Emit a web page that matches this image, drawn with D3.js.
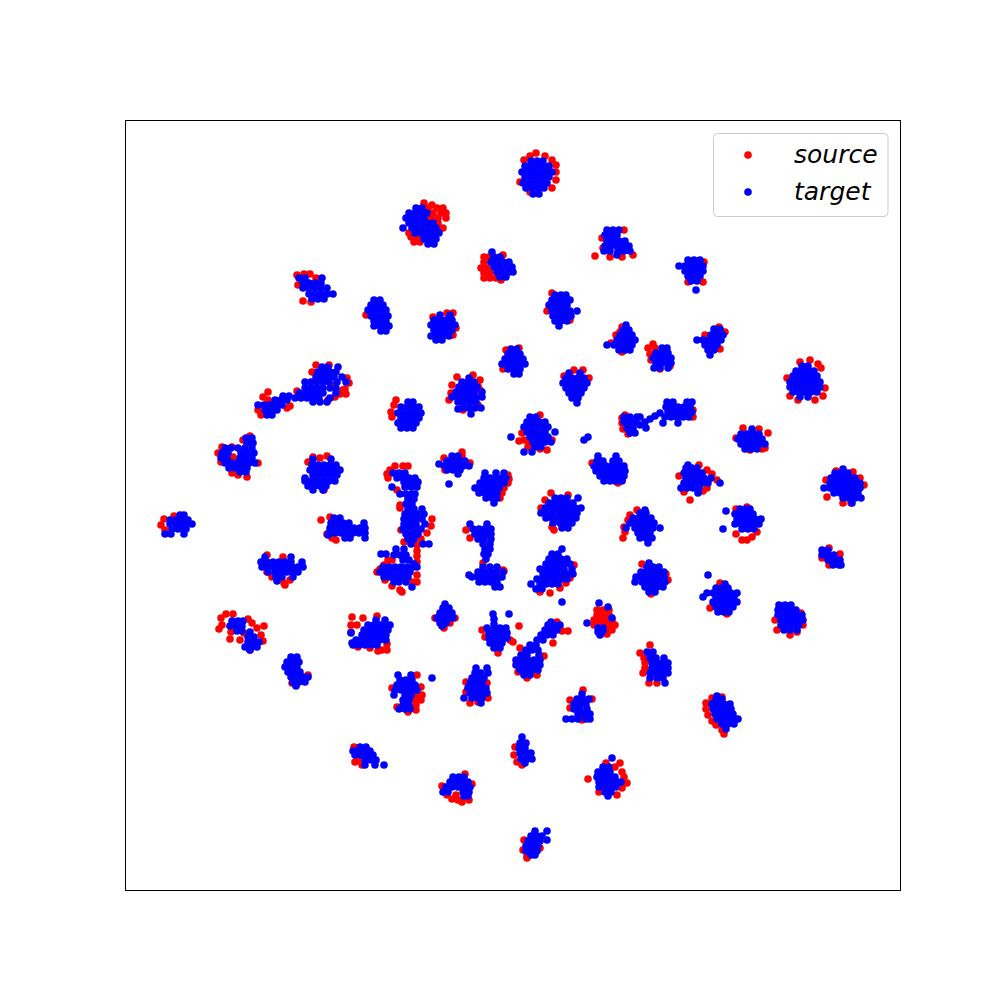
<!DOCTYPE html>
<html><head><meta charset="utf-8">
<style>html,body{margin:0;background:#fff}svg{display:block}</style>
<script src="https://cdn.jsdelivr.net/npm/d3@7"></script></head>
<body><div id="c"></div>
<script>
const seriesNames = ["source","target"];
const seriesColors = ["#ff0000","#0000ff"];
// each row: [y, x, x, x, ...]
const sourceRows = [
[844,530,545],[847,536],[840,524,552],[835,556],[828,556],[820,556],[812,552],[818,520],[808,530],
[797,424],[795,432],[792,428,437,443],[787,433,441,446],[782,431,438,446],[777,438],[772,443],[767,409],[763,411,417],[758,414,420],
[745,503],[743,484,489],[738,484],[732,481,487],[727,484,490],[722,484,490,496],[720,501],
[744,595],[745,633],[743,610,622],[770,624],[762,602],[752,603],
[738,704],[718,703,688],
[725,297],[726,304,310],[722,316],[715,298],[699,303],[698,311],
[685,366],
[687,447,453],[672,456],[683,433],[665,453],
[689,547],[707,552],[680,570],
[673,622],[665,616,705],[657,611],[668,620,725],[648,622],
[656,653],[652,648,655],[646,650],[640,651],[634,670],[631,660],
[651,720],[673,719],
[640,810],[638,800],[636,818],[632,821],[622,787],[604,790,823],[600,798,815],[612,825],
[650,506],[652,519],[631,503],
[624,564],[630,574,583],[622,589],
[623,457],[625,473],[620,480],[615,452],[610,480],[607,451],[590,463],[595,478],[600,449],[614,478],
[595,394],[588,391],[583,392],[600,396],
[608,268],[603,263],[590,258],[585,261],[592,287],[594,290],[609,297],[600,268],
[635,316,329],[628,312],[622,347],[617,349],[611,345],[610,343],[606,340,346],[613,335],[615,332],[603,335],[600,328],
[590,693],[583,693],[571,623],[577,622],[566,628],[582,622],[585,625],
[567,768],[571,759],[572,743],[562,736],[551,762],[552,765],[550,750],
[559,519],[560,524,552],[550,547],[567,522],[585,540],[553,528],[551,540],[557,529],
[564,250],[560,243],[553,222,232],[547,218],[538,221],[537,258],[523,247],[525,238],[527,232],[543,233],
[543,313],[542,320],[544,327],[510,324],[538,308],
[544,462],[548,462],[542,444],[534,444],[530,445],[537,470],
[521,509],[517,508],[512,504],[507,502],[502,500],[525,508],
[537,592],[519,615],[517,618],[520,622],
[535,699],[530,707],[526,712],[524,679],[508,684],[500,690],[512,707],[509,703],[520,717],
[528,853],[520,826],[515,864],[529,836],[503,827],[497,843,851],[522,860],
[493,747],[491,736],[466,736],[460,742,747],[463,752],[468,757],
[507,551],[505,568],[492,541],[500,545],[473,552],[470,554],
[490,637],[485,630],[480,628],[468,625],[473,624],[462,623],
[481,164],[475,161],[470,165],[484,174],
[480,321],[483,330],[466,327],[462,332],[460,336],
[534,395,403,408],[530,390],[526,387],[522,388],[510,397],[495,400],[481,432],[474,431],[467,427],[461,421],[455,417],[449,417],[444,417],[438,417],[431,380],[440,388,392],[435,384],[428,377],[420,385],[414,392],[410,400],[408,402],[418,413,417],[425,417],[492,400],[470,401],[458,404],
[470,466],[462,470],
[437,483],[430,503],[429,504],
[435,574],[407,550],[417,566],[412,560],[422,570],[408,540],
[445,267],[443,283],[417,284],[415,285],[420,290],[428,267],[423,272],
[436,642],[426,666],[406,651],[420,668],
[452,829],[446,840],[442,822],[435,829],
[392,710],[417,720],[386,727],
[365,790],[370,777],[380,775],[387,801],[375,803],[368,797],
[382,455,435],[372,444],[377,450],
[390,597,603,609],[385,597,603,609],[380,594,600,606,612],[375,594,600,606,612,615],[370,600,606,612],[366,601,607],
[386,233,226],[381,248],[382,221],[375,222],[371,219],[361,230],[360,240],[374,264],[372,257],[365,261],[359,263],[377,252],[368,231],[350,250],[367,244],
[383,352],[382,363],[384,377],[375,351,357],[368,351],[353,358],[352,370],[350,382,387],[356,387],[349,378],
[374,519],[370,482],[358,513],[360,510],[347,498],[363,485],
[369,568,562],[357,553],[344,544],[325,537],[322,527],[352,520],[328,518],[378,557],
[355,650],[347,640],[337,645],[327,643],[317,649,657],[342,644],[332,645],
[325,308,417],[317,292],[315,296],
[313,421],[300,421,415],[305,422,416],[290,416],[288,408],[293,397],[312,392],[295,416],
[308,466],[302,488],[297,470],[317,487],[318,466],[298,478],
[310,583],[301,592],[300,570],[292,570],[280,582],[283,586],
[302,712,718],[297,706],[291,706],[285,708],[279,712],[275,716],[270,722],[266,724],[303,722],
[245,514],[253,515],[238,517],[235,522],
[253,354],[238,355],[235,362],[240,358],
[237,620,606],[228,622],[217,627],[221,588],[208,599],[205,617],[223,624],[212,622],[233,615],
[214,442],[201,452],[198,462],[200,458,469],[226,465],[216,472],[205,447,456],
[152,540],[160,524],[144,527],[142,527],[150,523]
];
const targetRows = [
[839,531,537,543],[834,525,531,537,543,549],[828,522,528,534,540,546,552],[823,525,531,537,543,549],[817,523,529,535,541,547],[812,526,532,538,544],[806,533,539],
[792,416,422],[787,409,415,421,427],[782,406,412,418,424],[777,409,415,421,427,433],[772,403,412,418,424,430,436],[767,415,421,427,433,439],[761,424,430,436],[756,428,434],
[748,492],[743,494,500],[738,491,497,503,509],[733,494,500,506,512],[728,497,503,509,513],[723,500,506],
[770,607,613,619],[765,605,611,617],[759,607,613,619,625],[754,605,611,617,623,629],[749,604,610,618,624,630],[745,617],
[740,688,694,700],[734,679,685,691,697,703],[729,685,691,697,703],[724,688,694,700],[719,691,697],[710,696],
[722,299,305,322],[717,303,309,315,321],[712,303,309,315,321,327],[706,309,315,321,327,333],[701,312,318,324],
[700,374,380],[695,371,377,383],[690,368,374,380,386],[684,371,377,383,388],[679,374,380,386],[674,374,380,386,389],[669,381,386],
[685,440,450],[680,434,440,446,452],[675,431,437,443,449,455],[670,434,440,446,452],[664,431,437,443,449],[660,436,442],
[705,555,561,566],[700,552,558,564,570],[695,549,555,561,567],[689,552,558,564,570,577],[684,553,559,565,571],[679,555,561,567],[674,559],
[675,626],[670,623,629],[665,620,626,632],[660,617,623,629,635],[655,607,614,620,626,632],[650,619,625,630],
[652,662,667],[647,656,662,668],[642,653,659,665,671],[637,656,662,668,671],[632,654,660,668],
[671,714,720],[665,711,717,723],[660,697,703,709,715,721],[655,705,711,717],[650,708,714],[645,710],
[634,802,808],[629,796,802,808,814],[624,793,799,805,811,817],[618,790,796,802,808,814,820],[613,790,796,802,808,814,820],[608,793,799,805,811,817],[603,800,808],
[651,511,517],[646,508,514,520],[641,505,511,517,523],[636,502,508,514,520,525],[631,508,514,520],[626,514,519],
[627,569,580],[622,566,572,578,584],[617,563,569,575,581,587],[612,566,572,578,584],[607,569,575,581],[602,572,578],[597,577],
[622,469],[618,462,468,474],[613,459,465,471,477],[608,456,462,468,474,482],[603,452,458,464,470,476,482],[598,458,464,470,476],[592,463,469,475,481],[591,458],[586,471],
[598,408,413],[593,401,407,413,419],[587,398,404,410,416,421],[582,401,407,413,419],[577,398,404,410,416],[572,401,407,413],
[604,283,289],[600,275,281,287],[595,258,264,270,276,282],[590,265,271,277],[585,267,272],
[633,322,328,338],[628,318,324,330,336],[623,316,322,328,334,342],[618,305,311,317,323,329,337,346],[612,305,311,317,323,330,336],[607,299,305,311,317,323,336],[602,295,301,307,313,319,330],[598,313,320,327],
[598,667,673,687,692],[593,666,672,678,684,690],[588,668,674,680,686,692],[583,665,671,677,683,689],[577,663,678],[587,660],[584,655],[581,650],[578,645],[575,640],
[583,624,630,637,640],[578,624,630,636],[572,627,633,646],[567,630,635],
[571,752],[566,741,747,753,759],[561,738,744,750,756,762],[556,741,747,753,759,765],[551,745,751,757],
[583,530,536],[578,527,533,539,545],[573,524,530,536,542,548],[568,527,533,539,545,555],[563,511,530,536,542,548],[558,533,539,545,551],[553,535,541],[548,524,532],
[541,313,331],[535,312,318,324,330,336],[530,310,316,322,328,334,340],[525,313,319,325,331,337],[522,305],[519,305,311,317,323,329,335],[514,308,314,320,326],[510,313,323],
[562,246,252],[557,247,253],[552,225,231,238,245,252],[547,222,228,241,247,254],[542,221,227,240,246,252],[537,225,231,237,243,249,255],[532,229,235,241,247],[528,240,246],
[485,180,184],[480,170,176,182,188],[476,170,176,182,188,192],[471,172,178,184,186],[466,165,171,184],
[482,334,340],[477,331,337,343,349,364],[472,330,336,342,348,354,360,365],[467,329,335,341,347,353,359,365],[465,328],[462,345,350,365],
[527,393,399,405],[522,397,403,409,415],[518,404,410,416,418],[513,392,405,411,417],[506,400,406,412,415],[501,408,414],[496,406,412],[491,408,414,422],[486,405,411,417,424],[481,404,410,416,422],[476,404,410,416,425],[471,403,409,415,421],[466,406,412,418],[461,408,414],[456,411,423,429],
[446,381,386],[451,396,404],[445,394,400,406],[440,403,409],[436,414],[433,383,389,395,401,407,413,417],[428,380,386,392,398,404,410],[423,384,390,396,402,408],[418,394,399,406],[413,412],
[544,452,458],[539,447,453,459,465],[534,445,451,457,463,469],[536,439],[530,447,453,459,460],[526,458],[516,449],
[527,485,496,504],[522,484,490,496,502,506],[517,480,486,492,498,504],[512,475,481,487,493,499],[507,479,485,491,497],[502,486,492,497],[497,494],
[544,598,616],[539,597,603,613,619],[534,594,600,606,612,618,624],[529,596,602,608,614,620,625],[524,600,606,612,618,624],[519,604,610,616,622],
[560,584],[563,588],
[535,688],[532,686,692,697],[527,684,690,696,702],[522,686,692,698,704,711],[517,684,690,696,702,708,720],[512,681,687,693,699],[507,698],
[531,843],[527,835,841,848],[522,831,837,843,849,855],[517,830,836,842,848,854,860],[512,824,830,836,842,848,854,860],[507,834,840,846,852,858],[502,843,849,855,861],[497,852],
[491,740,746,750],[489,726],[486,735,741,747,753],[481,737,743,749,755,761],[476,735,741,747,753,759],[471,723,742,748,754],
[502,555,561,567,578],[497,549,555,561,567,573],[492,545,551,557,563,569,575,581],[487,541,547,553,559,565,571,577],[482,546,552,558,564,570,576],[477,553,560,566,572],[472,562,568],
[490,645],[487,640,646],[482,633,639,645,651],[477,630,636,642,648,654],[472,626,635,641,647,653,660],[467,638,644,650],[462,640,646,652],[457,648],
[476,470,487],[471,473,479,485,491],[466,475,481,487,491],[461,478,484,491],[456,483,490],[451,485,490],[446,484,488],[441,486],
[433,483,490,497],[428,478,484,490,496,503],[425,469],[423,472,478,484,490,496,502],[418,479,485,491,497],[413,495,500],
[451,562],[446,552,558],[441,549,555,561,567],[436,546,552,558,564,570],[431,540,546,552,558,564,572],[426,543,549,555,561,567,573],[421,537,543,549,555,561,567],[416,531,540,546,552,558],[411,536,542],[398,562],
[443,265,291],[438,261,267,273,279,285,291,302],[433,262,268,274,280,286,292,298,303],[428,268,275,281,287,293,298],[423,276,282,293],[419,277],
[437,649],[433,647,653,659],[428,641,647,653,659,664],[423,636,642,648,654,660,664],[418,635,642,648,654,660,665],[413,645,651,657,663],[408,649,655],
[450,822,828],[445,822,828,834],[440,828,834,840],[435,833,839,841],
[425,708],[416,725],[412,716,722,728],[407,707,713,719,725,731,737],[403,703,716,722,728,734],[398,713,719,725,731,737],[393,716,722,728,733],[388,718,724,729],
[395,779,785,791],[390,778,784,790,796],[385,778,784,790,796,802],[380,781,787,793,799,803],[375,781,787,793,799],[370,784,790,797],
[396,445],[392,443,449],[387,440,446,452],[382,437,443,449,453],[377,440,446],[374,442],
[397,599],[393,608],[382,612],[377,587],[372,598,603],[369,603],[368,598],[365,600],
[379,232,238,243],[374,230,236,242],[369,237,242],[368,250],[363,248,254],[358,248,254,259],[353,245,251,257],[350,250],
[380,376,385],[375,368,374,380,386,390],[370,364,370,376,382,388],[367,351],[365,362,368,374,380,386],[360,356,362,368,374,380,386],[357,352],[355,353,359,365,371,377],
[386,493,509],[381,494],[376,494],[372,487,494,500,506],[367,489,495,501,507],[362,489,495,501,507],[357,490,496,502],[352,494,500],
[378,551],[375,548,554,560],[370,545,551,557],[365,541,547,553],[360,537,543],[355,530,536],[350,526,532,538],[345,521,527,539],[340,516,522,528,534,540],[335,516,522,528,534,540],[330,520,526,532,538],[325,524,530],
[348,647,653],[342,650,656,664],[337,652,658,664,668],[332,652,658,664,668],[327,650,656,662,668],[322,650,657,663],[317,665],
[343,291,297],[338,287,293,299],[333,285,291,297],[328,288,294,300],[323,291,297,303,308],[318,293,299,305],[314,296],
[325,398,411],[322,432],[320,400,406,412],[315,397,403,409,415],[310,395,401,407,413,417],[305,394,405,411],[300,403,409],[295,403,409],[291,399,405,410],
[332,476,487],[327,475,481,488],[322,472,478,484],[317,470,476,482],[312,468,474,480,486],[307,470,476,482,487],[302,464,472,478,482],[297,481],
[306,582],[301,577,583,589],[296,574,580,586],[291,574,580,587],[286,578,584,590],[281,566,572,578,586,590],
[304,717],[301,716,722],[296,712,718,724,730],[291,713,719,725,731],[286,715,721,727,733],[281,717,723,729,735,738],[276,722,728,734],[271,726],
[263,522],[257,520,526],[252,519,525],[247,520,526,531],[241,521,527,532],[237,525],
[253,360,366],[249,353,359,365,370],[245,355,361,367,373],[240,365,371,376],[235,365,375,384],
[242,612],[233,603,609],[228,598,604,610],[223,597,603,609,615],[218,599,605,611,617,621],[213,599,605,611,616],[208,605,611],[204,608],
[223,453,459,464],[218,450,456,462,468],[213,446,452,458,464,470],[208,443,448,463,469],[204,464,468],
[169,535,547],[164,531,537,542],[160,547],[159,528,534,540],[154,526,532,538],[149,526,532,537],[145,531,535]
];
const toPoints = rows => rows.flatMap(([yv,...xs]) => xs.map(xv => [xv,yv]));
const sourcePoints = toPoints(sourceRows), targetPoints = toPoints(targetRows);
const W=1000,H=1000;
const x=d3.scaleLinear().domain([125,900]).range([125,900]);
const y=d3.scaleLinear().domain([110,880]).range([890,120]);
const svg=d3.select("#c").append("svg").attr("width",W).attr("height",H);
svg.append("rect").attr("x",125.5).attr("y",120.5).attr("width",775).attr("height",770).attr("fill","#fff").attr("stroke","#000").attr("stroke-width",1);
[sourcePoints,targetPoints].forEach((pts,i)=>{
  svg.append("g").selectAll("circle").data(pts).join("circle")
    .attr("cx",d=>x(d[0])).attr("cy",d=>y(d[1])).attr("r",3.8).attr("fill",seriesColors[i]);
});
const leg=svg.append("g");
leg.append("rect").attr("x",713.5).attr("y",133.5).attr("width",174.5).attr("height",83).attr("rx",4).attr("fill","#fff").attr("fill-opacity",.8).attr("stroke","#ccc").attr("stroke-width",1);
seriesNames.forEach((n,i)=>{
  const cy=155+i*37;
  leg.append("circle").attr("cx",748).attr("cy",cy).attr("r",3.8).attr("fill",seriesColors[i]);
  leg.append("text").attr("x",794).attr("y",cy+8).attr("font-family","DejaVu Sans").attr("font-style","italic").attr("font-size",25).attr("fill","#000").text(n);
});
</script></body></html>
